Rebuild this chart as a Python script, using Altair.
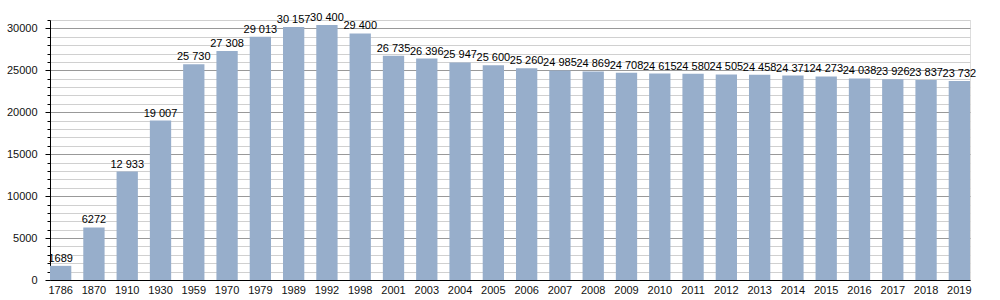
import altair as alt
import pandas as pd

years = ["1786", "1870", "1910", "1930", "1959", "1970", "1979", "1989", "1992", "1998",
         "2001", "2003", "2004", "2005", "2006", "2007", "2008", "2009", "2010", "2011",
         "2012", "2013", "2014", "2015", "2016", "2017", "2018", "2019"]
population = [1689, 6272, 12933, 19007, 25730, 27308, 29013, 30157, 30400, 29400,
              26735, 26396, 25947, 25600, 25260, 24985, 24869, 24708, 24615, 24580,
              24505, 24458, 24371, 24273, 24038, 23926, 23837, 23732]
y_ticks = list(range(0, 31001, 1000))

df = pd.DataFrame({"year": years, "pop": population})

FONT = "Liberation Sans"
major = "datum.value % 5000 === 0"

x = alt.X("year:N", sort=None, title=None,
          scale=alt.Scale(paddingInner=0.36, paddingOuter=0),
          axis=alt.Axis(labelAngle=0, ticks=False, domainColor="black", labelColor="#111",
                        labelFontSize=11, labelFont=FONT, labelPadding=4, grid=False))
y_axis = alt.Axis(values=y_ticks, domainColor="black", tickColor="black",
                  tickSize={"condition": {"test": major, "value": 5}, "value": 3},
                  gridColor={"condition": {"test": major, "value": "#999999"}, "value": "#d0d0d0"},
                  labelExpr=f"{major} ? datum.value : ''",
                  labelOverlap=False, labelFontSize=11, labelFont=FONT, labelColor="#111",
                  labelPadding=8, labelFlush=False)
y = alt.Y("pop:Q", title=None, scale=alt.Scale(domain=[0, 31000], nice=False), axis=y_axis)

bars = alt.Chart(df).mark_bar(color="#97AECB").encode(x=x, y=y)

text = alt.Chart(df).transform_calculate(
    label="datum.pop >= 10000 ? replace(format(datum.pop, ','), ',', ' ') : '' + datum.pop"
).mark_text(baseline="bottom", dy=-2, fontSize=11, font=FONT, color="black").encode(
    x=x, y=y, text="label:N")

chart = (bars + text).properties(
    width=920, height=260,
    autosize=alt.AutoSizeParams(type="none"),
    padding={"left": 50, "top": 20, "right": 30, "bottom": 20},
).configure_view(stroke=None).configure(background="white")

chart.save("out.html", embed_options={"renderer": "svg", "actions": False})
